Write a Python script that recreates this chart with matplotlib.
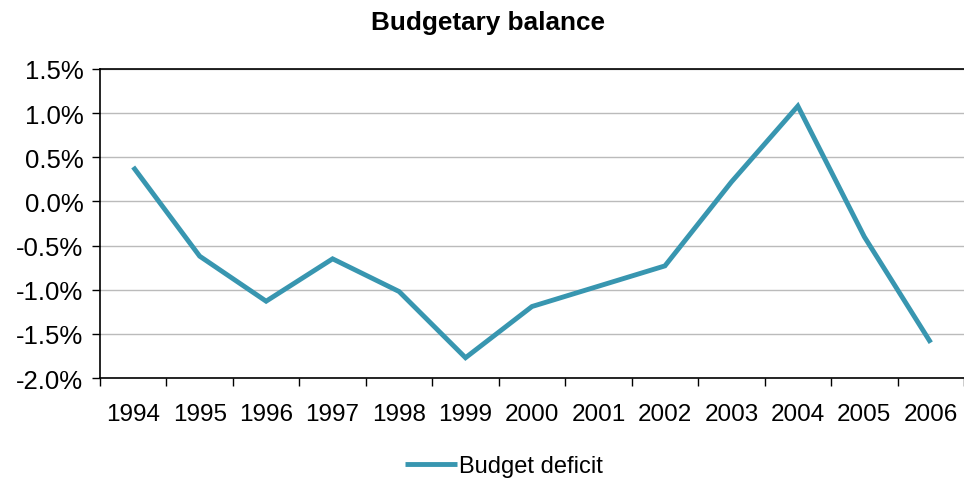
import matplotlib
matplotlib.use("Agg")
import matplotlib.pyplot as plt
from matplotlib.ticker import FuncFormatter, FixedLocator

years = ["1994", "1995", "1996", "1997", "1998", "1999", "2000",
         "2001", "2002", "2003", "2004", "2005", "2006"]
deficit = [0.39, -0.62, -1.13, -0.65, -1.02, -1.77, -1.19,
           -0.96, -0.73, 0.22, 1.08, -0.40, -1.60]

plt.rcParams["font.family"] = ["Liberation Sans", "DejaVu Sans"]

fig = plt.figure(figsize=(9.64, 4.81), dpi=100)
ax = fig.add_axes([0.1037, 0.212, 0.8963, 0.6425])

x = range(len(years))
ax.plot(x, deficit, color="#3896B0", linewidth=3.5, label="Budget deficit",
        solid_joinstyle="miter", solid_capstyle="butt")

ax.set_ylim(-2.0, 1.5)
ax.set_yticks([-2.0, -1.5, -1.0, -0.5, 0.0, 0.5, 1.0, 1.5])
ax.yaxis.set_major_formatter(FuncFormatter(lambda v, p: f"{v:.1f}%"))
ax.grid(axis="y", color="#BBBBBB", linewidth=1)
ax.set_axisbelow(True)

ax.set_xlim(-0.5, len(years) - 0.5)
ax.set_xticks(list(x))
ax.set_xticklabels(years)
ax.xaxis.set_minor_locator(FixedLocator([i - 0.5 for i in range(len(years) + 1)]))
ax.tick_params(axis="x", which="major", length=0, pad=18, labelsize=17.5)
ax.tick_params(axis="x", which="minor", length=6, direction="out", width=1)
ax.tick_params(axis="y", length=6, width=1, labelsize=18.5, pad=6)

ax.spines["right"].set_visible(False)
for s in ("left", "bottom", "top"):
    ax.spines[s].set_color("black")
    ax.spines[s].set_linewidth(1.2)

fig.text(0.506, 0.953, "Budgetary balance", ha="center", va="center",
         fontsize=18.8, fontweight="bold")

fig.legend(loc="center", bbox_to_anchor=(0.523, 0.029), frameon=False,
           fontsize=17, handlelength=2.2, handletextpad=0.1)

fig.savefig("out.png", dpi=100)
